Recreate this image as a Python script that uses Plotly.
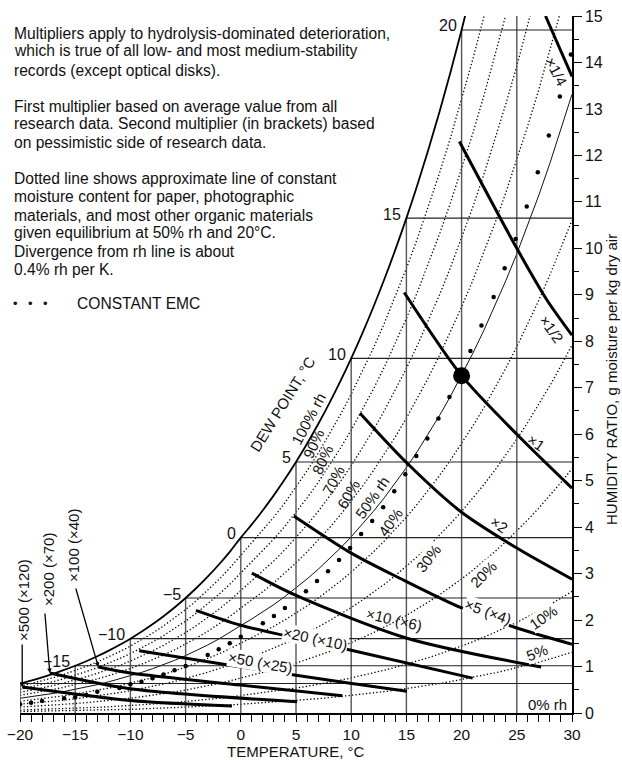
import plotly.graph_objects as go

# ---------------- data ----------------
# saturation vapour pressure table (kPa), over ice below 0 C, over water above
temps_c = list(range(-20, 31))
ps_kpa = [0.10326, 0.11362, 0.12492, 0.13725, 0.15068, 0.16530, 0.18122, 0.19852,
          0.21732, 0.23775, 0.25990, 0.28392, 0.30995, 0.33813, 0.36861, 0.40156,
          0.43716, 0.47559, 0.51704, 0.56170, 0.61115,
          0.6571, 0.7060, 0.7581, 0.8135, 0.8726, 0.9354, 1.0021, 1.0730, 1.1482,
          1.2282, 1.3129, 1.4028, 1.4981, 1.5989, 1.7057, 1.8188, 1.9383, 2.0647,
          2.1982, 2.3392, 2.4881, 2.6452, 2.8109, 2.9856, 3.1697, 3.3637, 3.5679,
          3.7828, 4.0089, 4.2467]
pressure_kpa = 101.325
rh_dotted = [0.05, 0.10, 0.20, 0.30, 0.40, 0.60, 0.70, 0.80, 0.90]
rh_solid = [0.50]
dew_points = [-20, -15, -10, -5, 0, 5, 10, 15, 20]
vertical_temps = [-20, -15, -10, -5, 0, 5, 10, 15, 20, 25]

# isoperm (multiplier) lines: (temperature C, humidity ratio g/kg)
iso_lines = {
    "x1/4": ([27.6, 30.0], [15.0, 13.7]),
    "x1/2": ([19.8, 25.0, 27.7, 30.0], [12.3, 10.0, 8.9, 8.13]),
    "x1": ([14.8, 20.0, 25.0, 30.0], [9.05, 7.26, 6.0, 4.84]),
    "x2": ([10.8, 15.0, 20.0, 25.0, 30.0], [6.45, 5.39, 4.32, 3.55, 2.88]),
    "x5": ([4.8, 10.0, 14.4, 20.0, 25.0, 30.0], [4.24, 3.44, 2.9, 2.26, 1.83, 1.48]),
    "x10": ([1.0, 4.9, 15.05, 27.2], [3.01, 2.54, 1.61, 0.99]),
    "x20": ([-4.06, 0.0, 10.0, 21.0], [2.21, 1.89, 1.35, 0.75]),
    "x50": ([-9.2, 0.0, 9.9, 15.05], [1.34, 0.99, 0.64, 0.47]),
    "x100": ([-12.9, -10.0, 0.0, 9.2], [0.99, 0.86, 0.6, 0.37]),
    "x200": ([-17.3, -10.0, 5.1], [0.86, 0.52, 0.24]),
    "x500": ([-19.8, -10.0, -0.8], [0.56, 0.27, 0.15]),
}

# constant EMC dots
emc_t = [-20, -19, -18, -16, -15, -14, -13, -11, -10, -9, -8, -7, -6, -5, -3, -2, -1, 0,
         2, 3, 4, 5.9, 6.9, 7.9, 8.9, 9.9, 10.9, 11.9, 12.9, 13.9, 14.9, 15.9, 16.9,
         17.9, 18.9, 20.8, 21.8, 22.9, 23.9, 24.9, 25.9, 26.9, 27.9, 28.9, 29.9]
emc_w = [0.19, 0.22, 0.26, 0.32, 0.34, 0.39, 0.46, 0.54, 0.62, 0.67, 0.75, 0.83, 0.92, 1.01,
         1.25, 1.37, 1.5, 1.64, 1.93, 2.09, 2.26, 2.62, 2.84, 3.05, 3.29, 3.55, 3.85, 4.13,
         4.43, 4.77, 5.14, 5.53, 5.91, 6.34, 6.80, 7.79, 8.34, 8.95, 9.57, 10.2, 10.9, 11.64,
         12.43, 13.27, 14.17]
ref_point_t = [20]
ref_point_w = [7.26]

x_tickvals = [-20, -15, -10, -5, 0, 5, 10, 15, 20, 25, 30]
y_tickvals = list(range(0, 16))

notes = [
    "Multipliers apply to hydrolysis-dominated deterioration,",
    "which is true of all low- and most medium-stability",
    "records (except optical disks).",
    "",
    "First multiplier based on average value from all",
    "research data. Second multiplier (in brackets) based",
    "on pessimistic side of research data.",
    "",
    "Dotted line shows approximate line of constant",
    "moisture content for paper, photographic",
    "materials, and most other organic materials",
    "given equilibrium at 50% rh and 20°C.",
    "Divergence from rh line is about",
    "0.4% rh per K.",
]

# ---------------- helpers ----------------
ps_by_t = dict(zip(temps_c, ps_kpa))


def w_of(rh, ps):
    pv = rh * ps
    return 622.0 * pv / (pressure_kpa - pv)


FONT = "Liberation Sans, Arial, sans-serif"
L, R, T, B = 20, 50, 16, 47
W_FIG, H_FIG = 622, 760
PW, PH = W_FIG - L - R, H_FIG - T - B


def px(x):
    return (x - L) / PW


def py(y):
    return (H_FIG - B - y) / PH


fig = go.Figure()

# rh dotted curves
for rh in rh_dotted:
    fig.add_trace(go.Scatter(x=temps_c, y=[w_of(rh, p) for p in ps_kpa], mode="lines",
                             line=dict(color="#000", width=1.3, dash="1.3px,2.2px"),
                             hoverinfo="skip"))
for rh in rh_solid:
    fig.add_trace(go.Scatter(x=temps_c, y=[w_of(rh, p) for p in ps_kpa], mode="lines",
                             line=dict(color="#111", width=1), hoverinfo="skip"))

# dew point grid lines
hx, hy, vx, vy = [], [], [], []
for td in dew_points:
    wsat = w_of(1.0, ps_by_t[td])
    hx += [td, 30, None]
    hy += [wsat, wsat, None]
for tv in vertical_temps:
    wsat = min(w_of(1.0, ps_by_t[tv]), 15)
    vx += [tv, tv, None]
    vy += [wsat, 0, None]
fig.add_trace(go.Scatter(x=vx, y=vy, mode="lines", line=dict(color="#555", width=1.4),
                         hoverinfo="skip"))
fig.add_trace(go.Scatter(x=hx, y=hy, mode="lines", line=dict(color="#222", width=1.1),
                         hoverinfo="skip"))

# saturation curve
fig.add_trace(go.Scatter(x=temps_c, y=[w_of(1.0, p) for p in ps_kpa], mode="lines",
                         line=dict(color="#000", width=1.8, shape="spline"), hoverinfo="skip"))

# isoperm bold lines
for name, (xs, ys) in iso_lines.items():
    fig.add_trace(go.Scatter(x=xs, y=ys, mode="lines",
                             line=dict(color="#000", width=3, shape="spline", smoothing=0.8),
                             hoverinfo="skip"))

# constant EMC dots
fig.add_trace(go.Scatter(x=emc_t, y=emc_w, mode="markers",
                         marker=dict(color="#000", size=4.5), hoverinfo="skip"))
fig.add_trace(go.Scatter(x=ref_point_t, y=ref_point_w, mode="markers",
                         marker=dict(color="#000", size=17), hoverinfo="skip"))

ann = []


def text_px(txt, cx, cy, angle=0, size=15, xanchor="center", yanchor="middle", bg=None):
    d = dict(text=txt, x=px(cx), y=py(cy), xref="paper", yref="paper",
             showarrow=False, textangle=angle, xanchor=xanchor, yanchor=yanchor,
             font=dict(family=FONT, size=size, color="#111"))
    if bg:
        d.update(bgcolor=bg, borderpad=0)
    ann.append(d)


# notes block
note_y = [33, 51, 70, 88, 106, 124, 142, 160, 178, 196, 215, 233, 251, 269]
for line, yy in zip(notes, note_y):
    if line:
        text_px(line, 12, yy, size=15.6, xanchor="left")
for bx in [15, 30, 45]:
    text_px("•", bx, 303, size=13)
text_px("CONSTANT EMC", 75, 303, size=15.6, xanchor="left")

# dew point labels
for td in dew_points[1:]:
    wsat = w_of(1.0, ps_by_t[td])
    ann.append(dict(text=str(td).replace("-", "\u2212"), x=td, y=wsat, xref="x", yref="y",
                    showarrow=False, xanchor="right", yanchor="middle", xshift=-3, yshift=4,
                    font=dict(family=FONT, size=16, color="#111")))

text_px("DEW POINT, °C", 282, 404, angle=-58)

rh_labels = [("100% rh", 309, 419, -62, None), ("90%", 314, 444, -65, None),
             ("80%", 323, 460, -65, None), ("70%", 333, 480, -62, None),
             ("60%", 348, 494, -60, None), ("50% rh", 372, 497, -55, None),
             ("40%", 390, 522, -55, None), ("30%", 428, 558, -52, "white"),
             ("20%", 483, 574, -45, "white"), ("10%", 543, 617, -35, "white"),
             ("5%", 537, 652, -20, "white"), ("0% rh", 547, 704, 0, None)]
for t_, x_, y_, a_, bg_ in rh_labels:
    text_px(t_, x_, y_, angle=a_, bg=bg_)

mult_labels = [("×1/4", 556, 72, 62, None), ("×1/2", 552, 329, 55, None),
               ("×1", 536, 442, 35, None), ("×2", 499, 524, 35, None),
               ("×5 (×4)", 488, 611, 20, "white"), ("×10 (×6)", 394, 619, 13, None),
               ("×20 (×10)", 315, 638, 12, "white"), ("×50 (×25)", 260, 662, 10, "white"),
               ("×500 (×120)", 23, 600, -90, None), ("×200 (×70)", 48, 570, -90, None),
               ("×100 (×40)", 73, 546, -90, None)]
for t_, x_, y_, a_, bg_ in mult_labels:
    text_px(t_, x_, y_, angle=a_, bg=bg_)

# leader arrows to the cold-end isoperms
for key, (ax_, ay_) in [("x500", (0, -44)), ("x200", (-5, -61)), ("x100", (-23, -80))]:
    xs, ys = iso_lines[key]
    ann.append(dict(text="", x=xs[0], y=ys[0], xref="x", yref="y", showarrow=True,
                    ax=ax_, ay=ay_, arrowhead=2, arrowsize=0.7, arrowwidth=1.3,
                    arrowcolor="#000"))

# axis titles
text_px("TEMPERATURE, °C", 296, 751)
text_px("HUMIDITY RATIO, g moisture per kg dry air", 611, 380, angle=-90)

fig.update_layout(
    width=W_FIG, height=H_FIG, margin=dict(l=L, r=R, t=T, b=B, autoexpand=False),
    paper_bgcolor="white", plot_bgcolor="white", showlegend=False,
    annotations=ann,
    xaxis=dict(range=[-20, 30], tickvals=x_tickvals, ticks="outside", ticklen=7,
               tickwidth=1.2, tickcolor="#000", showgrid=False, zeroline=False,
               showline=True, linecolor="#000", linewidth=1.5,
               tickfont=dict(family=FONT, size=15.5, color="#111"),
               minor=dict(dtick=1, ticks="outside", ticklen=7, tickwidth=1, tickcolor="#000")),
    yaxis=dict(range=[0, 15], side="right", tickvals=y_tickvals, ticks="outside", ticklen=8,
               tickwidth=1.2, tickcolor="#000", showgrid=False, zeroline=False,
               showline=True, linecolor="#000", linewidth=1.5,
               tickfont=dict(family=FONT, size=16, color="#111"),
               minor=dict(dtick=0.5, ticks="outside", ticklen=5, tickwidth=1, tickcolor="#000")),
)

fig.write_html("out.html", config={"displayModeBar": False},
               post_script="document.body.style.margin='0';")
